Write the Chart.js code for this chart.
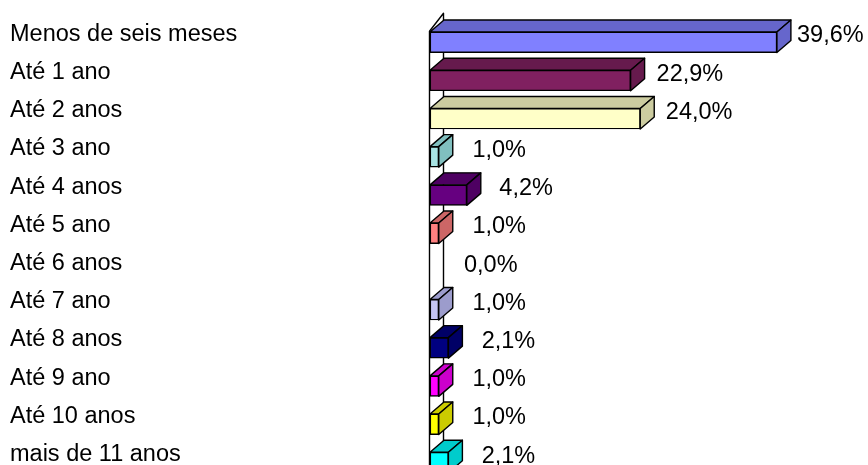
<!DOCTYPE html>
<html>
<head>
<meta charset="utf-8">
<script src="https://cdn.jsdelivr.net/npm/chart.js@4.4.1/dist/chart.umd.min.js"></script>
<style>
  html, body { margin: 0; padding: 0; background: #fff; overflow: hidden; }
  #wrap { width: 868px; height: 490px; }
</style>
</head>
<body>
<div id="wrap"><canvas id="tempo" width="868" height="490"></canvas></div>
<script>
// categorias e valores (%)
var categories = ["Menos de seis meses", "Até 1 ano", "Até 2 anos", "Até 3 ano", "Até 4 anos", "Até 5 ano",
                  "Até 6 anos", "Até 7 ano", "Até 8 anos", "Até 9 ano", "Até 10 anos", "mais de 11 anos"];
var values = [39.6, 22.9, 24.0, 1.0, 4.2, 1.0, 0.0, 1.0, 2.1, 1.0, 1.0, 2.1];

// front face colours and the darker top / side faces
var frontColors = ["#8080FF", "#802060", "#FFFFC8", "#A8E4E4", "#660080", "#FF8080",
                   "#0066CC", "#C4C4F2", "#000080", "#FF00FF", "#FFFF00", "#00FFFF"];
var sideColors  = ["#6666CC", "#661A4D", "#CCCCA0", "#80BFBF", "#4E0062", "#CC6666",
                   "#0052A3", "#9C9CCC", "#000066", "#CC00CC", "#CCCC00", "#00CCCC"];

var FONT = '"Liberation Sans", Arial, sans-serif';
var DX = 14, DY = 12;

function fmt(v){
    return v.toFixed(1).replace(".", ",") + "%";
}

// 3D faces + floor wall, drawn before the front faces
var bars3d = {
    id: "bars3d",
    beforeDatasetsDraw(chart){
        var ctx = chart.ctx;
        var area = chart.chartArea;
        var meta = chart.getDatasetMeta(0);
        var x0 = Math.round(area.left) - 0.5;
        var h = chart.height;

        ctx.save();
        ctx.lineWidth = 1.4;
        ctx.strokeStyle = "#000";
        ctx.lineJoin = "round";

        // wall
        ctx.beginPath();
        ctx.moveTo(x0, area.top + 8);
        ctx.lineTo(x0 + DX, area.top - 10);
        ctx.lineTo(x0 + DX, h);
        ctx.lineTo(x0, h);
        ctx.closePath();
        ctx.fillStyle = "#fff";
        ctx.fill();
        ctx.beginPath();
        ctx.moveTo(x0, h);
        ctx.lineTo(x0, area.top + 8);
        ctx.lineTo(x0 + DX, area.top - 10);
        ctx.lineTo(x0 + DX, h);
        ctx.stroke();

        meta.data.forEach((bar, i) => {
            if (values[i] <= 0) return;
            var bx = bar.base, ex = bar.x;
            var yt = bar.y - bar.height / 2, yb = bar.y + bar.height / 2;
            ctx.fillStyle = sideColors[i];
            // top face
            ctx.beginPath();
            ctx.moveTo(bx, yt);
            ctx.lineTo(bx + DX, yt - DY);
            ctx.lineTo(ex + DX, yt - DY);
            ctx.lineTo(ex, yt);
            ctx.closePath();
            ctx.fill();
            ctx.stroke();
            // side face
            ctx.beginPath();
            ctx.moveTo(ex, yt);
            ctx.lineTo(ex + DX, yt - DY);
            ctx.lineTo(ex + DX, yb - DY);
            ctx.lineTo(ex, yb);
            ctx.closePath();
            ctx.fill();
            ctx.stroke();
        });
        ctx.restore();
    },
    afterDatasetsDraw(chart){
        var ctx = chart.ctx;
        var meta = chart.getDatasetMeta(0);
        ctx.save();
        ctx.font = "23.5px " + FONT;
        ctx.fillStyle = "#000";
        ctx.textAlign = "left";
        ctx.textBaseline = "alphabetic";
        meta.data.forEach((bar, i) => {
            var gap = 20 - 0.35 * values[i];
            ctx.fillText(fmt(values[i]), bar.x + DX + gap, bar.y);
        });
        ctx.restore();
    }
};

const tempo = new Chart(document.getElementById("tempo"), {
    type: "bar",
    data: {
        labels: categories,
        datasets: [{
            data: values,
            backgroundColor: frontColors,
            borderColor: "#000",
            borderWidth: 1.4,
            borderSkipped: false,
            barThickness: 20.5
        }]
    },
    options: {
        indexAxis: "y",
        responsive: false,
        devicePixelRatio: 1,
        animation: false,
        layout: {
            padding: { left: 10, right: 0, top: 23.2, bottom: 8.4 }
        },
        plugins: {
            legend: { display: false },
            tooltip: { enabled: false }
        },
        scales: {
            x: {
                display: false,
                min: 0,
                max: 50
            },
            y: {
                grid: { display: false },
                border: { display: false },
                afterFit(scale){
                    scale.width = 420;
                    scale.paddingTop = 0;
                    scale.paddingBottom = 0;
                },
                ticks: {
                    autoSkip: false,
                    crossAlign: "far",
                    labelOffset: -8,
                    color: "#000",
                    font: { family: FONT, size: 23.5 }
                }
            }
        }
    },
    plugins: [bars3d]
});
</script>
</body>
</html>
